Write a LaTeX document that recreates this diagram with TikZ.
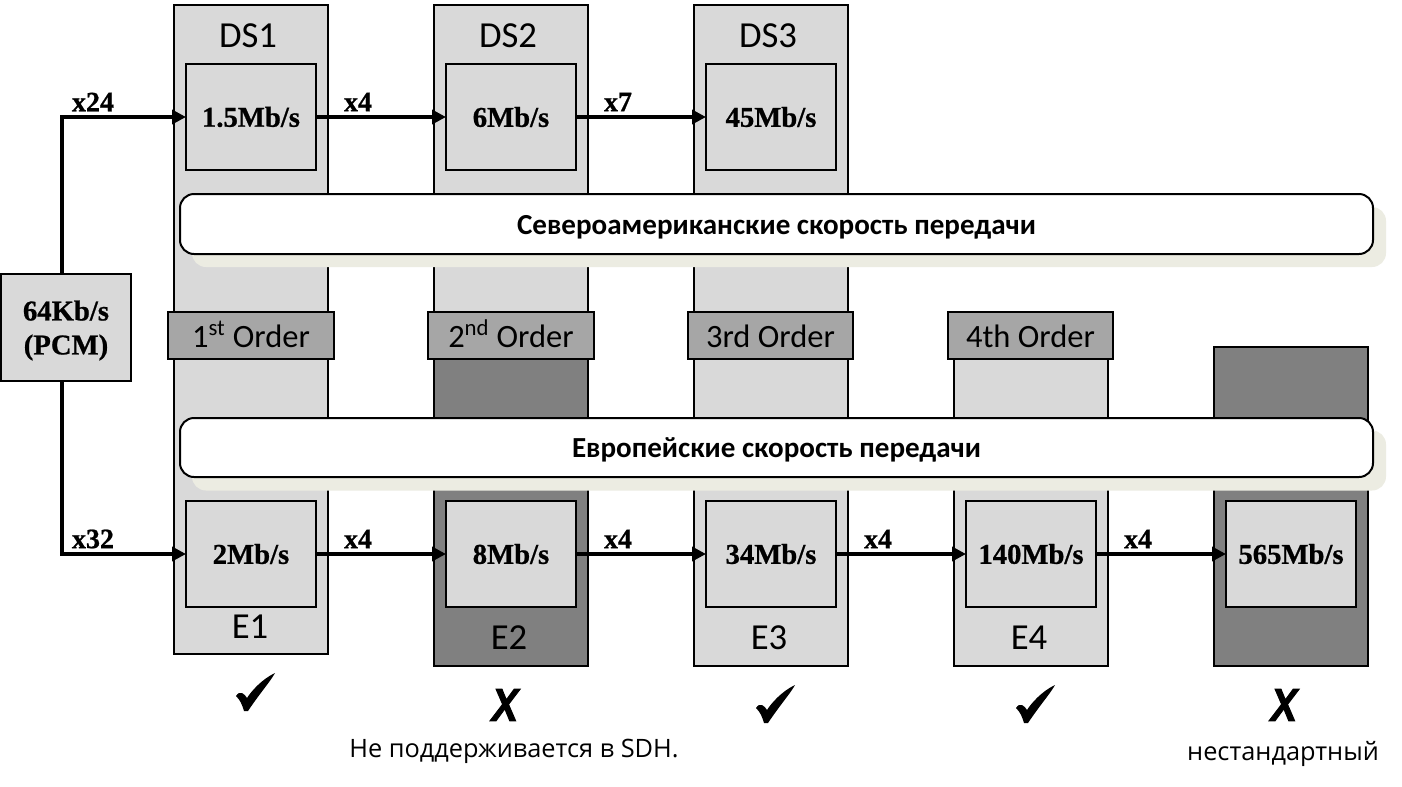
\documentclass[tikz,border=0pt]{standalone}
\usepackage{fontspec}
\setmainfont{Carlito}
\newfontfamily\serifb{Liberation Serif Bold}[FakeBold=0.8]
\newfontfamily\opens{Open Sans}
\newfontfamily\xfont{Liberation Sans Bold Italic}[FakeBold=2,FakeStretch=0.86]
\usetikzlibrary{arrows.meta}
\definecolor{lg}{HTML}{D9D9D9}
\definecolor{mg}{HTML}{A6A6A6}
\definecolor{dg}{HTML}{808080}
\definecolor{sh}{HTML}{ECECE2}
\tikzset{
  sz/.style 2 args={minimum width=#1*0.75pt,minimum height=#2*0.75pt},
  box/.style={draw=black,line width=1.5pt,inner sep=0pt,outer sep=0pt,rectangle,align=center},
  lightcol/.style={box,fill=lg},
  darkcol/.style={box,fill=dg},
  rate/.style={box,fill=lg,sz={130}{106},font=\serifb\fontsize{21.5}{24}\selectfont},
  order/.style={box,fill=mg,sz={165}{47},text height=20pt,text depth=2pt,font=\fontsize{24.4}{26}\selectfont},
  banner/.style={draw=black,line width=1.5pt,fill=white,rounded corners=10.5pt,sz={1193}{60},rectangle,inner sep=0pt,outer sep=0pt,font=\bfseries\fontsize{21.8}{24}\selectfont},
  shadowbar/.style={fill=sh,rounded corners=10.5pt,sz={1194}{60},rectangle,inner sep=0pt,outer sep=0pt},
  colname/.style={font=\fontsize{27.5}{30}\selectfont,inner sep=0pt},
  mult/.style={font=\serifb\fontsize{21}{24}\selectfont,inner sep=0pt},
  link/.style={line width=3.6pt,-{Triangle[length=10.5pt,width=10.5pt]}},
  note/.style={font=\opens\fontsize{19}{22}\selectfont,inner sep=0pt},
  no/.style={font=\xfont\fontsize{34.5}{40}\selectfont,inner sep=0pt},
  yes/.pic={\fill[black] (11,25) .. controls (15,18.5) and (26,6) .. (39,0)
     .. controls (34,9) and (24,20) .. (12,38) -- (8,38)
     .. controls (6,31) and (4,27) .. (0,23)
     .. controls (2,20) and (4,19) .. (6,20)
     .. controls (8,21) and (10,23) .. (11,25) -- cycle;},
}
\begin{document}
\begin{tikzpicture}[x=0.75pt,y=-0.75pt]
\useasboundingbox (0,0) rectangle (1402,786);
\fill[white] (0,0) rectangle (1402,786);
% columns
\node[lightcol,sz={154}{649}] (c1) at (251,329.5) {};
\node[lightcol,sz={154}{353}] (c2t) at (511,181.5) {};
\node[darkcol,sz={154}{308}] (c2b) at (511,512) {};
\node[lightcol,sz={154}{661}] (c3) at (771,335.5) {};
\node[lightcol,sz={154}{308}] (c4) at (1031,512) {};
\node[darkcol,sz={154}{319}] (c5) at (1291,506.5) {};
% column names
\node[colname] (n1) at (248,36) {DS1};
\node[colname] (n2) at (508,36) {DS2};
\node[colname] (n3) at (768,36) {DS3};
\node[colname] (n4) at (250,627) {E1};
\node[colname] (n5) at (509,638) {E2};
\node[colname] (n6) at (769,638) {E3};
\node[colname] (n7) at (1029,638) {E4};
% rate boxes
\node[rate] (d1) at (251,117) {1.5Mb/s};
\node[rate] (d2) at (511,117) {6Mb/s};
\node[rate] (d3) at (771,117) {45Mb/s};
\node[rate] (e1) at (251,554) {2Mb/s};
\node[rate] (e2) at (511,554) {8Mb/s};
\node[rate] (e3) at (771,554) {34Mb/s};
\node[rate] (e4) at (1031,554) {140Mb/s};
\node[rate] (e5) at (1291,554) {565Mb/s};
% order labels
\node[order,sz={166}{47}] (o1) at (251,335.5) {1\textsuperscript{st} Order};
\node[order,sz={166}{47}] (o2) at (511,335.5) {2\textsuperscript{nd} Order};
\node[order] (o3) at (770.5,335.5) {3rd Order};
\node[order] (o4) at (1030.5,335.5) {4th Order};
% banners
\node[shadowbar] (s1) at (789,237) {};
\node[shadowbar] (s2) at (789,460.5) {};
\node[banner,text height=18pt,text depth=3pt] (b1) at (776.5,224) {Североамериканские скорость передачи};
\node[banner,sz={1193}{59},text height=18pt,text depth=3pt] (b2) at (776.5,447.5) {Европейские скорость передачи};
% source
\node[box,fill=lg,sz={130}{107}] (p) at (66,327.5) {};
\node[align=center,inner sep=0pt,font=\serifb\fontsize{21.5}{25.5}\selectfont] (pl) at (66,330.5) {64Kb/s\\(PCM)};
\coordinate (pt) at (62,274);
\coordinate (pb) at (62,381);
% connectors
\draw[link] (pt) |- (d1.west);
\draw[link] (pb) |- (e1.west);
\draw[link] (d1) -- (d2);
\draw[link] (d2) -- (d3);
\draw[link] (e1) -- (e2);
\draw[link] (e2) -- (e3);
\draw[link] (e3) -- (e4);
\draw[link] (e4) -- (e5);
% multipliers
\node[mult] (m1) at (93,102) {x24};
\node[mult] (m2) at (358,102) {x4};
\node[mult] (m3) at (618,102) {x7};
\node[mult] (m4) at (93,539) {x32};
\node[mult] (m5) at (358,539) {x4};
\node[mult] (m6) at (618,539) {x4};
\node[mult] (m7) at (878,539) {x4};
\node[mult] (m8) at (1138,539) {x4};
% marks
\pic at (236,673) {yes};
\pic at (756,685) {yes};
\pic at (1016,685) {yes};
\node[no] (x1) at (505,705) {X};
\node[no] (x2) at (1284,705) {X};
% notes
\node[note] (t1) at (514,751) {Не поддерживается в SDH.};
\node[note] (t2) at (1283,754) {нестандартный};
\end{tikzpicture}
\end{document}
